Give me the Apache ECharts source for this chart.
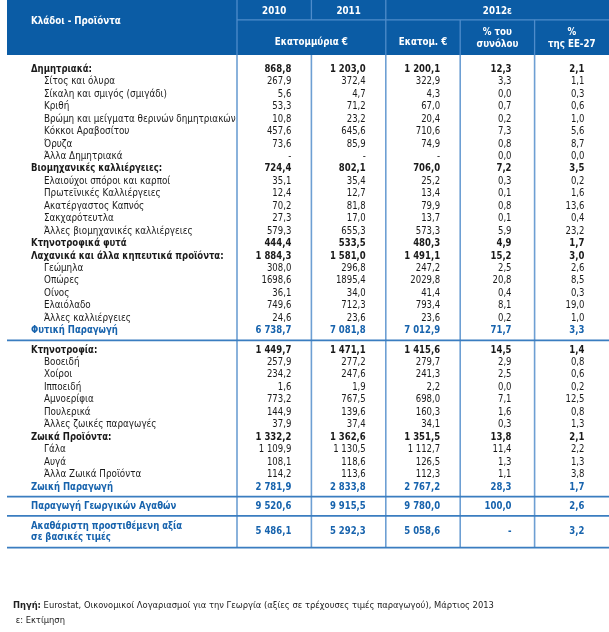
<!DOCTYPE html>
<html><head><meta charset="utf-8">
<script src="https://cdn.jsdelivr.net/npm/echarts@6/dist/echarts.min.js"></script>
<style>html,body{margin:0;padding:0;background:#fff}#c{width:609px;height:632px}</style>
</head><body><div id="c"></div>
<script>
// ---------- DATA ----------
const stubHeader = 'Κλάδοι - Προϊόντα';
const yearLabels = ['2010', '2011', '2012ε'];
const unitLabels = ['Εκατομμύρια €', 'Εκατομ. €', '% του\nσυνόλου', '%\nτης ΕΕ-27'];

const rowLabels = [
  'Δημητριακά:', 'Σίτος και όλυρα', 'Σίκαλη και σμιγός (σμιγάδι)', 'Κριθή',
  'Βρώμη και μείγματα θερινών δημητριακών', 'Κόκκοι Αραβοσίτου', 'Όρυζα', 'Άλλα Δημητριακά',
  'Βιομηχανικές καλλιέργειες:', 'Ελαιούχοι σπόροι και καρποί', 'Πρωτεϊνικές Καλλιέργειες',
  'Ακατέργαστος Καπνός', 'Σακχαρότευτλα', 'Άλλες βιομηχανικές καλλιέργειες',
  'Κτηνοτροφικά φυτά', 'Λαχανικά και άλλα κηπευτικά προϊόντα:', 'Γεώμηλα', 'Οπώρες', 'Οίνος',
  'Ελαιόλαδο', 'Άλλες καλλιέργειες', 'Φυτική Παραγωγή',
  'Κτηνοτροφία:', 'Βοοειδή', 'Χοίροι', 'Ιπποειδή', 'Αμνοερίφια', 'Πουλερικά',
  'Άλλες ζωικές παραγωγές', 'Ζωικά Προϊόντα:', 'Γάλα', 'Αυγά', 'Άλλα Ζωικά Προϊόντα',
  'Ζωική Παραγωγή',
  'Παραγωγή Γεωργικών Αγαθών',
  'Ακαθάριστη προστιθέμενη αξία\nσε βασικές τιμές'
];
const rowKind = [
  'group','item','item','item','item','item','item','item',
  'group','item','item','item','item','item',
  'group','group','item','item','item','item','item','total',
  'group','item','item','item','item','item','item','group','item','item','item','total',
  'total',
  'total'
];
const rowSection = [
  0,0,0,0,0,0,0,0,0,0,0,0,0,0,0,0,0,0,0,0,0,0,
  1,1,1,1,1,1,1,1,1,1,1,1,
  2,
  3
];
const val2010 = ['868,8','267,9','5,6','53,3','10,8','457,6','73,6','-','724,4','35,1','12,4','70,2','27,3','579,3','444,4','1 884,3','308,0','1698,6','36,1','749,6','24,6','6 738,7',
  '1 449,7','257,9','234,2','1,6','773,2','144,9','37,9','1 332,2','1 109,9','108,1','114,2','2 781,9','9 520,6','5 486,1'];
const val2011 = ['1 203,0','372,4','4,7','71,2','23,2','645,6','85,9','-','802,1','35,4','12,7','81,8','17,0','655,3','533,5','1 581,0','296,8','1895,4','34,0','712,3','23,6','7 081,8',
  '1 471,1','277,2','247,6','1,9','767,5','139,6','37,4','1 362,6','1 130,5','118,6','113,6','2 833,8','9 915,5','5 292,3'];
const val2012 = ['1 200,1','322,9','4,3','67,0','20,4','710,6','74,9','-','706,0','25,2','13,4','79,9','13,7','573,3','480,3','1 491,1','247,2','2029,8','41,4','793,4','23,6','7 012,9',
  '1 415,6','279,7','241,3','2,2','698,0','160,3','34,1','1 351,5','1 112,7','126,5','112,3','2 767,2','9 780,0','5 058,6'];
const share2012 = ['12,3','3,3','0,0','0,7','0,2','7,3','0,8','0,0','7,2','0,3','0,1','0,8','0,1','5,9','4,9','15,2','2,5','20,8','0,4','8,1','0,2','71,7',
  '14,5','2,9','2,5','0,0','7,1','1,6','0,3','13,8','11,4','1,3','1,1','28,3','100,0','-'];
const shareEU27 = ['2,1','1,1','0,3','0,6','1,0','5,6','8,7','0,0','3,5','0,2','1,6','13,6','0,4','23,2','1,7','3,0','2,6','8,5','0,3','19,0','1,0','3,3',
  '1,4','0,8','0,6','0,2','12,5','0,8','1,3','2,1','2,2','1,3','3,8','1,7','2,6','3,2'];
const sourceLabel = 'Πηγή:';
const sourceNote = 'Eurostat, Οικονομικοί Λογαριασμοί για την Γεωργία (αξίες σε τρέχουσες τιμές παραγωγού), Μάρτιος 2013';
const estimateNote = 'ε: Εκτίμηση';

// ---------- LAYOUT (axis units: x = column, y = row) ----------
const FONT = '"DejaVu Sans Condensed","Liberation Sans",sans-serif';
const ROWPX = 12.45;
const HEAD_U = 55 / ROWPX;
const LABW = 230 / 74.4;
const NCOL = 5;
const C_HEAD = '#0b5ca5', C_HLINE = '#4f8ccb', C_BLUE = '#1763ad', C_SEP = '#3a7dc0', C_VLINE = '#6d9fd3', C_TXT = '#1a1a1a';
const valueCols = [val2010, val2011, val2012, share2012, shareEU27];
const valuePad = [0.27, 0.27, 0.27, 0.31, 0.33];
const SX_LABEL = 0.89, SX_LABEL_B = 0.86, SX_VAL = 0.86, SX_HEAD = 0.88;

const cells = [];
// header
cells.push({t:'rect', x1:-LABW, y1:-HEAD_U, x2:NCOL, y2:0, fill:C_HEAD});
const yYear = -3.55, yDiv = -2.82, yUnit = -1.05, yUnit2 = -1.35;
cells.push({t:'line', x1:0, y1:yDiv, x2:NCOL, y2:yDiv, stroke:C_HLINE, w:1.3});
[[0,-HEAD_U,0],[1,-HEAD_U,yDiv],[2,-HEAD_U,0],[3,yDiv,0],[4,yDiv,0]].forEach(a =>
  cells.push({t:'line', x1:a[0], y1:a[1], x2:a[0], y2:a[2], stroke:C_HLINE, w:1.3}));
const hdr = (x, y, text, align) => cells.push({t:'text', x, y, text, align, fill:'#fff', bold:true, size:11, lh:12, sx:SX_HEAD});
hdr(-LABW + 0.323, -2.75, stubHeader, 'left');
hdr(0.5, yYear, yearLabels[0], 'center');
hdr(1.5, yYear, yearLabels[1], 'center');
hdr(3.5, yYear, yearLabels[2], 'center');
hdr(1, yUnit, unitLabels[0], 'center');
hdr(2.5, yUnit, unitLabels[1], 'center');
hdr(3.5, yUnit2, unitLabels[2], 'center');
hdr(4.5, yUnit2, unitLabels[3], 'center');

// body rows
let cursor = 0.62, prevSec = rowSection[0];
const sepLines = [];
rowLabels.forEach((lab, i) => {
  if (rowSection[i] !== prevSec) {
    const ly = cursor + 0.3; sepLines.push(ly); cursor = ly + 0.25; prevSec = rowSection[i];
  }
  const nl = lab.split('\n').length;
  const h = nl > 1 ? 2 : 1;
  const yc = cursor + h / 2;
  cursor += h;
  const kind = rowKind[i];
  const bold = kind !== 'item';
  const fill = kind === 'total' ? C_BLUE : C_TXT;
  const indent = kind === 'item' ? 0.497 : 0.323;
  cells.push({t:'text', x:-LABW + indent, y:yc, text:lab, align:'left', fill, bold, size:11, lh:11.5, sx: bold ? SX_LABEL_B : SX_LABEL});
  valueCols.forEach((col, c) => {
    cells.push({t:'text', x:c + 1 - valuePad[c], y:yc, text:col[i], align:'right', fill, bold, size:11, sx:SX_VAL});
  });
});
const bottomY = cursor + 0.3; sepLines.push(bottomY);
for (let c = 0; c < NCOL; c++) cells.push({t:'line', x1:c, y1:0, x2:c, y2:bottomY, stroke:C_VLINE, w:1.6});
sepLines.forEach(ly => cells.push({t:'line', x1:-LABW, y1:ly, x2:NCOL, y2:ly, stroke:C_SEP, w:1.6}));

// ---------- CHART ----------
const chart = echarts.init(document.getElementById('c'), null, {renderer:'canvas'});
chart.setOption({
  animation: false,
  title: {
    left: 8, top: 593,
    text: '{b|' + sourceLabel + '} ' + sourceNote + '\n ' + estimateNote,
    textStyle: {
      fontFamily: FONT, fontSize: 9.3, fontWeight: 'normal', color: '#222', lineHeight: 15,
      rich: { b: {fontFamily: FONT, fontSize: 9.3, fontWeight: 'bold', color: '#222'} }
    }
  },
  grid: {left: 7, right: 0, top: 0, bottom: 0},
  xAxis: {type:'value', min:-LABW, max:NCOL, show:false},
  yAxis: {type:'value', min:-HEAD_U, max:632 / ROWPX - HEAD_U, inverse:true, show:false},
  series: [{
    type: 'custom',
    clip: false,
    encode: {x: 0, y: 1},
    data: cells.map((c, i) => [c.x !== undefined ? c.x : c.x1, c.y !== undefined ? c.y : c.y1, i]),
    renderItem: function (params, api) {
      const c = cells[api.value(2)];
      if (c.t === 'rect') {
        const p1 = api.coord([c.x1, c.y1]), p2 = api.coord([c.x2, c.y2]);
        return {type:'rect', shape:{x:p1[0], y:p1[1], width:p2[0]-p1[0], height:p2[1]-p1[1]}, style:{fill:c.fill}};
      }
      if (c.t === 'line') {
        const p1 = api.coord([c.x1, c.y1]), p2 = api.coord([c.x2, c.y2]);
        return {type:'line', shape:{x1:p1[0], y1:p1[1], x2:p2[0], y2:p2[1]}, style:{stroke:c.stroke, lineWidth:c.w}};
      }
      const p = api.coord([c.x, c.y]);
      return {type:'text', x:p[0], y:p[1], scaleX:c.sx || 1, style:{
        text:c.text, fill:c.fill, align:c.align, verticalAlign:'middle',
        fontFamily:FONT, fontSize:c.size, fontWeight:c.bold ? 'bold' : 'normal', lineHeight:c.lh || 13
      }};
    }
  }]
});
</script></body></html>
